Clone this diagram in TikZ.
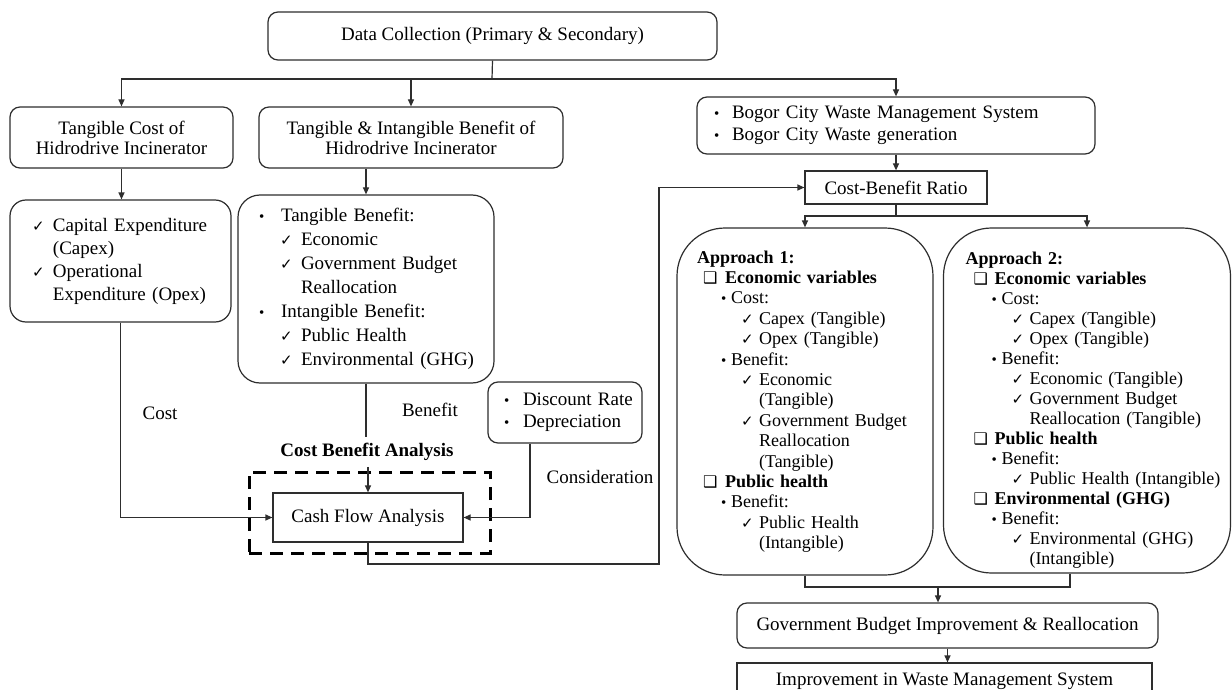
\documentclass[tikz,border=0pt]{standalone}
\usepackage{fontspec}
\setmainfont{Liberation Serif}
\newfontfamily\symfont{DejaVu Sans}
\usepackage{tikz}
\usetikzlibrary{arrows.meta}
\definecolor{linegray}{HTML}{2E2E2E}

\newcommand{\chk}{{\symfont\fontsize{15}{15}\selectfont ✓}}
\newcommand{\sqb}{{\symfont\fontsize{16}{16}\selectfont ❑}}
\newcommand{\bul}{{\fontsize{15}{15}\selectfont •}}
\newcommand{\li}[4]{\hspace*{#1pt}\makebox[#2pt][l]{#3}#4}

\tikzset{
  base/.style={draw=linegray, line width=1.2pt, inner sep=0pt, align=center,
    font=\fontsize{19}{20}\selectfont},
  titlebox/.style={base, rounded corners=10pt},
  plainbox/.style={base},
  listbox/.style={base, align=left, rounded corners=#1},
  dashbox/.style={draw=black, line width=3pt, dash pattern=on 13pt off 8pt},
  lbl/.style={font=\fontsize{19}{20}\selectfont},
  wire/.style={draw=linegray, line width=1.2pt},
  arr/.style={-{Triangle[length=7pt,width=6pt]}},
}

\begin{document}
\begin{tikzpicture}[x=1pt, y=-1pt]
  \useasboundingbox[fill=white] (0,0) rectangle (1232,690);

  % top row
  \node[titlebox, minimum width=449pt, minimum height=48pt] (dc) at (492.5,36) {Data Collection (Primary \& Secondary)};
  \node[titlebox, minimum width=223pt, minimum height=61pt] (tc) at (121.5,137.5) {Tangible Cost of\\Hidrodrive Incinerator};
  \node[titlebox, minimum width=304pt, minimum height=61pt] (ti) at (411,137.5) {Tangible \& Intangible Benefit of\\Hidrodrive Incinerator};
  \node[listbox=10pt, text width=398pt, minimum height=57pt, font=\fontsize{19}{22}\selectfont] (bogor) at (896,125.5)
    {\li{17}{18}{\bul}{Bogor City Waste Management System}\\
     \li{17}{18}{\bul}{Bogor City Waste generation}};

  % left column
  \node[listbox=16pt, text width=221pt, minimum height=122pt, font=\fontsize{19}{23}\selectfont] (capex) at (120.5,261)
    {\li{22}{21}{\chk}{Capital Expenditure}\\
     \li{43}{0}{}{(Capex)}\\
     \li{22}{21}{\chk}{Operational}\\
     \li{43}{0}{}{Expenditure (Opex)}};
  \node[listbox=22pt, text width=256pt, minimum height=188pt, font=\fontsize{19}{24}\selectfont] (tilist) at (366,289)
    {\li{21}{22}{\bul}{Tangible Benefit:}\\
     \li{42}{21}{\chk}{Economic}\\
     \li{42}{21}{\chk}{Government Budget}\\
     \li{63}{0}{}{Reallocation}\\
     \li{21}{22}{\bul}{Intangible Benefit:}\\
     \li{42}{21}{\chk}{Public Health}\\
     \li{42}{21}{\chk}{Environmental (GHG)}};
  \node[listbox=10pt, text width=154pt, minimum height=61pt, font=\fontsize{19}{22}\selectfont] (disc) at (565,412.5)
    {\li{16}{19}{\bul}{Discount Rate}\\
     \li{16}{19}{\bul}{Depreciation}};

  \node[lbl] (costlbl) at (160,413) {Cost};
  \node[lbl] (benlbl) at (430,410) {Benefit};
  \node[lbl] (conslbl) at (600,477) {Consideration};
  \node[lbl, font=\fontsize{19}{20}\selectfont\bfseries, inner sep=6pt] (cbalbl) at (367,452) {Cost Benefit Analysis};
  \node[dashbox, minimum width=241pt, minimum height=81pt] (cbaframe) at (369.5,512.5) {};
  \node[plainbox, minimum width=190pt, minimum height=49pt] (cfa) at (368,517.5) {Cash Flow Analysis};

  % right column
  \node[plainbox, minimum width=182pt, minimum height=33pt] (cbr) at (896,187.5) {Cost-Benefit Ratio};
  \node[listbox=48pt, text width=256pt, minimum height=347pt, font=\fontsize{18}{20.4}\selectfont] (ap1) at (805,401.5)
    {\li{20}{0}{}{\textbf{Approach 1:}}\\
     \li{26}{22}{\sqb}{\textbf{Economic variables}}\\
     \li{44}{10}{\bul}{Cost:}\\
     \li{64}{18}{\chk}{Capex (Tangible)}\\
     \li{64}{18}{\chk}{Opex (Tangible)}\\
     \li{44}{10}{\bul}{Benefit:}\\
     \li{64}{18}{\chk}{Economic}\\
     \li{82}{0}{}{(Tangible)}\\
     \li{64}{18}{\chk}{Government Budget}\\
     \li{82}{0}{}{Reallocation}\\
     \li{82}{0}{}{(Tangible)}\\
     \li{26}{22}{\sqb}{\textbf{Public health}}\\
     \li{44}{10}{\bul}{Benefit:}\\
     \li{64}{18}{\chk}{Public Health}\\
     \li{82}{0}{}{(Intangible)}};
  \node[listbox=48pt, text width=287pt, minimum height=345pt, font=\fontsize{18}{20}\selectfont] (ap2) at (1087,400.5)
    {\rule{0pt}{32pt}\li{22}{0}{}{\textbf{Approach 2:}}\\
     \li{30}{21}{\sqb}{\textbf{Economic variables}}\\
     \li{48}{10}{\bul}{Cost:}\\
     \li{68}{18}{\chk}{Capex (Tangible)}\\
     \li{68}{18}{\chk}{Opex (Tangible)}\\
     \li{48}{10}{\bul}{Benefit:}\\
     \li{68}{18}{\chk}{Economic (Tangible)}\\
     \li{68}{18}{\chk}{Government Budget}\\
     \li{86}{0}{}{Reallocation (Tangible)}\\
     \li{30}{21}{\sqb}{\textbf{Public health}}\\
     \li{48}{10}{\bul}{Benefit:}\\
     \li{68}{18}{\chk}{Public Health (Intangible)}\\
     \li{30}{21}{\sqb}{\textbf{Environmental (GHG)}}\\
     \li{48}{10}{\bul}{Benefit:}\\
     \li{68}{18}{\chk}{Environmental (GHG)}\\
     \li{86}{0}{}{(Intangible)}};
  \node[titlebox, minimum width=421pt, minimum height=45pt] (gbi) at (947.5,625.5) {Government Budget Improvement \& Reallocation};
  \node[plainbox, minimum width=415pt, minimum height=37pt] (iwms) at (944.5,681.5) {Improvement in Waste Management System};

  % connectors
  \coordinate (split) at (492,79);
  \draw[wire] (dc.south) -- (split);
  \draw[wire, arr] (split) -| (tc.north);
  \draw[wire, arr] (split) -| (ti.north);
  \draw[wire, arr] (split) -| (bogor.north);
  \draw[wire, arr] (tc.south) -- (tc.south |- capex.north);
  \draw[wire, arr] (tilist.north |- ti.south) -- (tilist.north);
  \draw[wire, arr] (capex.south) |- (cfa.west);
  \draw[wire] (tilist.south) -- (tilist.south |- cbalbl.north);
  \draw[wire, arr] (cfa.north |- cbalbl.south) -- (cfa.north);
  \draw[wire, arr] ([xshift=-35pt]disc.south) |- (cfa.east);
  \coordinate (back) at (659,564);
  \draw[wire, arr] (cfa.south) |- (back) |- (cbr.west);
  \draw[wire, arr] (bogor.south) -- (cbr.north);
  \coordinate (fork) at (896,216);
  \draw[wire] (cbr.south) -- (fork);
  \draw[wire, arr] (fork) -| (ap1.north);
  \draw[wire, arr] (fork) -| (ap2.north);
  \coordinate (merge) at (938,587);
  \draw[wire] (ap1.south) |- (merge);
  \draw[wire] ([xshift=-17pt]ap2.south) |- (merge);
  \draw[wire, arr] (merge) -- (merge |- gbi.north);
  \draw[wire, arr] (gbi.south) -- (gbi.south |- iwms.north);
\end{tikzpicture}
\end{document}
